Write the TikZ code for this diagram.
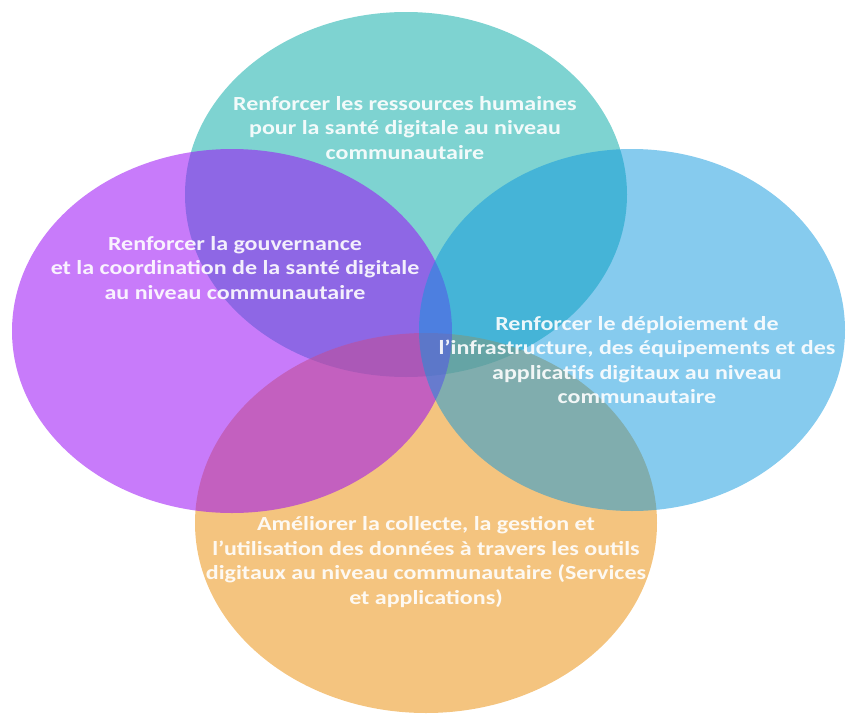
\documentclass[tikz,border=0pt]{standalone}
\usepackage{fontspec}
\setmainfont{Carlito}[FakeStretch=1.2]
\definecolor{cteal}{RGB}{20,175,171}
\definecolor{corange}{RGB}{237,157,42}
\definecolor{cpurple}{RGB}{155,15,245}
\definecolor{cblue}{RGB}{13,151,221}
\begin{document}
\begin{tikzpicture}[x=1pt,y=-1pt,
  blob/.style={fill=#1,fill opacity=0.55,draw=none},
  lbl/.style={text=white,text opacity=0.9,font=\fontsize{20}{24.5}\selectfont\bfseries,align=center,inner sep=0pt}]
\useasboundingbox (0,0) rectangle (847,713);
\fill[blob=cteal] (406,194.5) ellipse [x radius=221,y radius=182.5];
\fill[blob=corange,fill opacity=0.6] (426,523) ellipse [x radius=231,y radius=190];
\fill[blob=cpurple] (232,331) ellipse [x radius=220,y radius=182];
\fill[blob=cblue,fill opacity=0.5] (632,330) ellipse [x radius=213,y radius=181];
\node[lbl] (t1) at (405,128) {Renforcer les ressources humaines\\pour la santé digitale au niveau\\communautaire};
\node[lbl] (t2) at (235,268) {Renforcer la gouvernance\\et la coordination de la santé digitale\\au niveau communautaire};
\node[lbl] (t3) at (637,360) {Renforcer le déploiement de\\l’infrastructure, des équipements et des\\applicatifs digitaux au niveau\\communautaire};
\node[lbl] (t4) at (426,562) {Améliorer la collecte, la gestion et\\l’utilisation des données à travers les outils\\digitaux au niveau communautaire (Services\\et applications)};
\end{tikzpicture}
\end{document}
